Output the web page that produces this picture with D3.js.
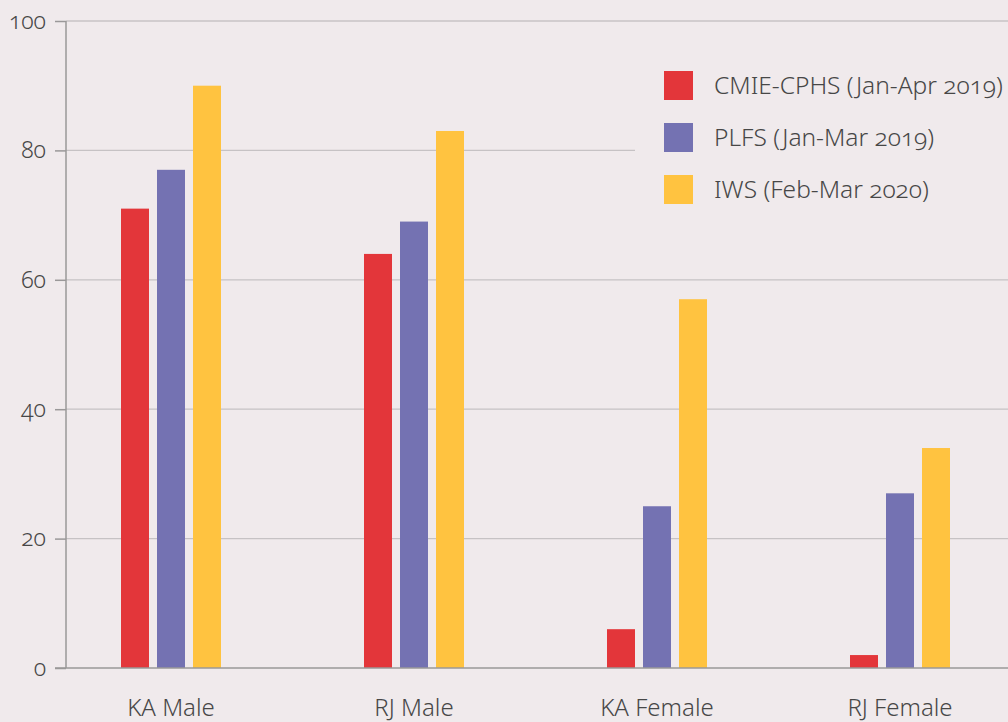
<!DOCTYPE html>
<html>
<head>
<meta charset="utf-8">
<script src="https://cdn.jsdelivr.net/npm/d3@7"></script>
<style>
  body { margin: 0; background: #f0eaec; }
  svg { display: block; font-family: "Noto Sans", "Open Sans", sans-serif; font-variant-numeric: oldstyle-nums; font-weight: 340; }
  .lbl { fill: #474747; }
</style>
</head>
<body>
<svg width="1008" height="722"></svg>
<script>
// chart values
const categories = ["KA Male", "RJ Male", "KA Female", "RJ Female"]
const seriesNames = ["CMIE-CPHS (Jan-Apr 2019)", "PLFS (Jan-Mar 2019)", "IWS (Feb-Mar 2020)"]
const cmieValues = [71, 64, 6, 2]
const plfsValues = [77, 69, 25, 27]
const iwsValues = [90, 83, 57, 34]
const yTicks = [0, 20, 40, 60, 80, 100]
const colors = ["#e3363a", "#7472b2", "#ffc340"]

const seriesValues = [cmieValues, plfsValues, iwsValues]

let svg = d3.select("svg")
let width = +svg.attr("width")

svg.append("rect")
    .attr("width", width).attr("height", 722)
    .attr("fill", "#f0eaec")

let y = d3.scaleLinear().domain([0, 100]).range([668, 21])
let x = d3.scaleBand().domain(categories).range([49.5, 1021.5])
let xs = d3.scaleBand().domain(d3.range(3))
    .range([-54, 54])
    .paddingInner(8/36)
    .paddingOuter(4/36)

// gridlines
svg.append("g")
    .selectAll("line")
    .data(yTicks.filter(d => d > 0))
    .enter()
    .append("line")
        .attr("x1", 66).attr("x2", width)
        .attr("y1", d => y(d)).attr("y2", d => y(d))
        .attr("stroke", d => d == 100 ? "#d2cdcf" : "#c6c2c4")
        .attr("stroke-width", d => d == 100 ? 2 : 1.2)

// legend background hides the gridline behind it
svg.append("rect")
    .attr("x", 635).attr("y", 40)
    .attr("width", 400).attr("height", 200)
    .attr("fill", "#f0eaec")

// bars
let groups = svg.selectAll(".grp")
    .data(categories)
    .enter()
    .append("g")
        .attr("class", "grp")
        .attr("transform", d => `translate(${x(d) + x.bandwidth()/2},0)`)

groups.selectAll("rect")
    .data((d, i) => seriesValues.map((s, k) => ({k: k, v: s[i]})))
    .enter()
    .append("rect")
        .attr("x", d => xs(d.k))
        .attr("width", xs.bandwidth())
        .attr("y", d => y(d.v))
        .attr("height", d => y(0) - y(d.v))
        .attr("fill", d => colors[d.k])

// y axis
let yAxis = d3.axisLeft(y).tickValues(yTicks).tickSize(11).tickPadding(9)
let ya = svg.append("g")
    .attr("transform", "translate(66,0)")
    .call(yAxis)
    .attr("font-family", null)
    .attr("font-size", null)
ya.select(".domain").remove()
ya.selectAll(".tick line").attr("stroke", "#9a9899").attr("stroke-width", 1.5)
ya.selectAll("text")
    .attr("class", "lbl")
    .attr("fill", null)
    .style("font-size", "23px")

svg.append("line")
    .attr("x1", 66).attr("x2", 66)
    .attr("y1", y(100)).attr("y2", y(0))
    .attr("stroke", "#9a9899").attr("stroke-width", 1.5)
svg.append("line")
    .attr("x1", 55).attr("x2", width)
    .attr("y1", y(0)).attr("y2", y(0))
    .attr("stroke", "#9a9899").attr("stroke-width", 1.5)

// category labels
svg.selectAll(".cat")
    .data(categories)
    .enter()
    .append("text")
        .attr("class", "lbl")
        .attr("x", d => x(d) + x.bandwidth()/2)
        .attr("y", 716)
        .attr("text-anchor", "middle")
        .style("font-size", "24px")
        .text(d => d)

// legend
let legend = svg.selectAll(".leg")
    .data(seriesNames)
    .enter()
    .append("g")
        .attr("transform", (d, i) => `translate(664,${71 + i*52})`)
legend.append("rect")
    .attr("width", 29).attr("height", 29)
    .attr("fill", (d, i) => colors[i])
legend.append("text")
    .attr("class", "lbl")
    .attr("x", 50).attr("y", 23)
    .style("font-size", "24.5px")
    .text(d => d)
</script>
</body>
</html>
